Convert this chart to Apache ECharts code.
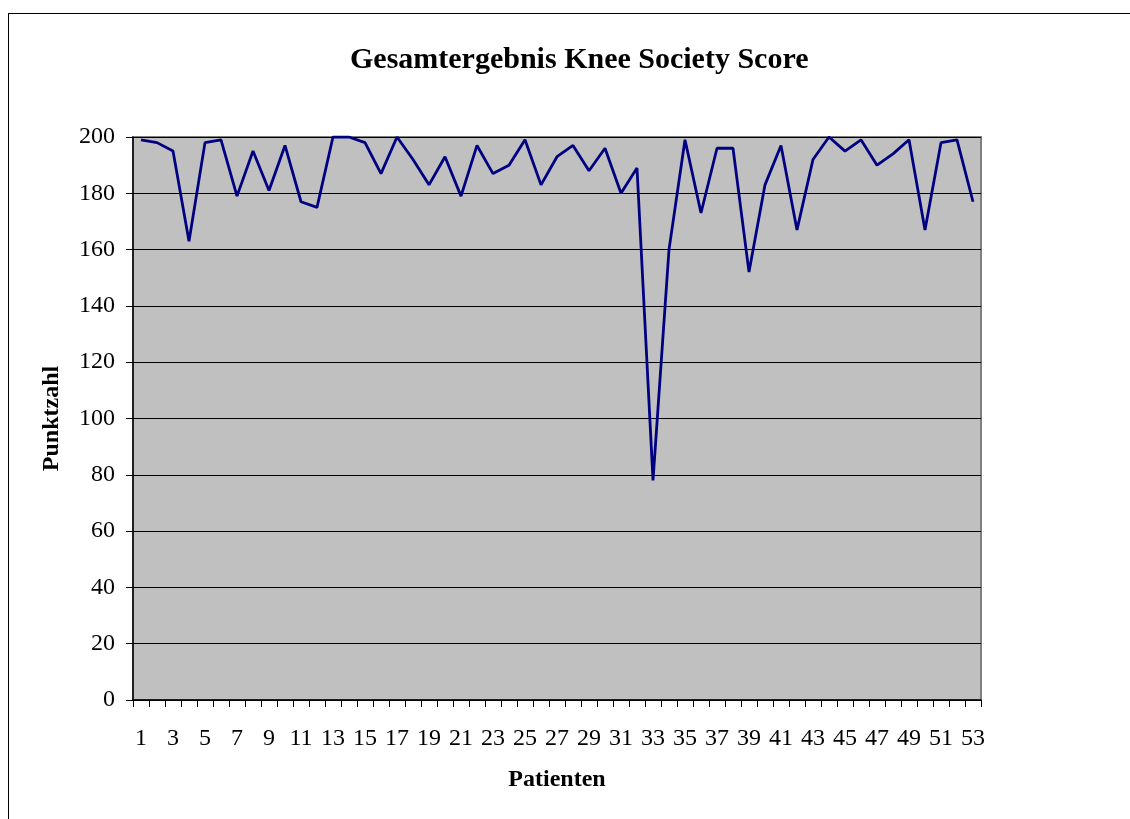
<!DOCTYPE html>
<html>
<head>
<meta charset="utf-8">
<script src="https://cdn.jsdelivr.net/npm/echarts@6/dist/echarts.min.js"></script>
<style>
  html, body { margin: 0; padding: 0; background: #fff; }
  #frame { position: absolute; left: 8px; top: 13px; width: 1140px; height: 830px; border: 1.5px solid #000; box-sizing: border-box; }
  #chart { position: absolute; left: 0; top: 0; width: 1130px; height: 819px; }
</style>
</head>
<body>
<div id="frame"></div>
<div id="chart"></div>
<script>
// Patienten 1..53
const patienten = [];
for (let i = 1; i <= 53; i++) patienten.push(String(i));

// Gesamtpunktzahl je Patient
const punktzahl = [
  199, 198, 195, 163, 198, 199, 179, 195, 181, 197,
  177, 175, 200, 200, 198, 187, 200, 192, 183, 193,
  179, 197, 187, 190, 199, 183, 193, 197, 188, 196,
  180, 189, 78, 160, 199, 173, 196, 196, 152, 183,
  197, 167, 192, 200, 195, 199, 190, 194, 199, 167,
  198, 199, 177
];

const serif = "'Liberation Serif', 'DejaVu Serif', serif";

let chart = echarts.init(document.getElementById("chart"));

let option = {
  animation: false,
  title: {
    text: "Gesamtergebnis Knee Society Score",
    left: 345,
    top: 40,
    textStyle: { fontFamily: serif, fontSize: 30, fontWeight: "bold", color: "#000" }
  },
  grid: {
    left: 133,
    top: 137,
    right: 149,
    bottom: 119,
    show: true,
    backgroundColor: "#c0c0c0",
    borderColor: "#808080",
    borderWidth: 2
  },
  xAxis: {
    type: "category",
    data: patienten,
    boundaryGap: true,
    name: "Patienten",
    nameLocation: "middle",
    nameGap: 68,
    nameTextStyle: { fontFamily: serif, fontSize: 24, fontWeight: "bold", color: "#000" },
    axisLine: { lineStyle: { color: "#000", width: 1.5 } },
    axisTick: { show: true, interval: 0, length: 7, lineStyle: { color: "#000" } },
    axisLabel: { interval: 1, margin: 27, fontFamily: serif, fontSize: 24, color: "#000" },
    splitLine: { show: false }
  },
  yAxis: {
    type: "value",
    min: 0,
    max: 200,
    interval: 20,
    name: "Punktzahl",
    nameLocation: "middle",
    nameGap: 69,
    nameRotate: 90,
    nameTextStyle: { fontFamily: serif, fontSize: 24, fontWeight: "bold", color: "#000" },
    axisLine: { show: true, lineStyle: { color: "#000", width: 1.5 } },
    axisTick: { show: true, length: 7, lineStyle: { color: "#000" } },
    axisLabel: { margin: 18, fontFamily: serif, fontSize: 24, color: "#000" },
    splitLine: { show: true, lineStyle: { color: "#000", width: 1 } }
  },
  series: [
    {
      name: "Punktzahl",
      type: "line",
      data: punktzahl,
      symbol: "none",
      lineStyle: { color: "#000080", width: 2.8 },
      z: 5
    }
  ]
};
chart.setOption(option);
</script>
</body>
</html>
